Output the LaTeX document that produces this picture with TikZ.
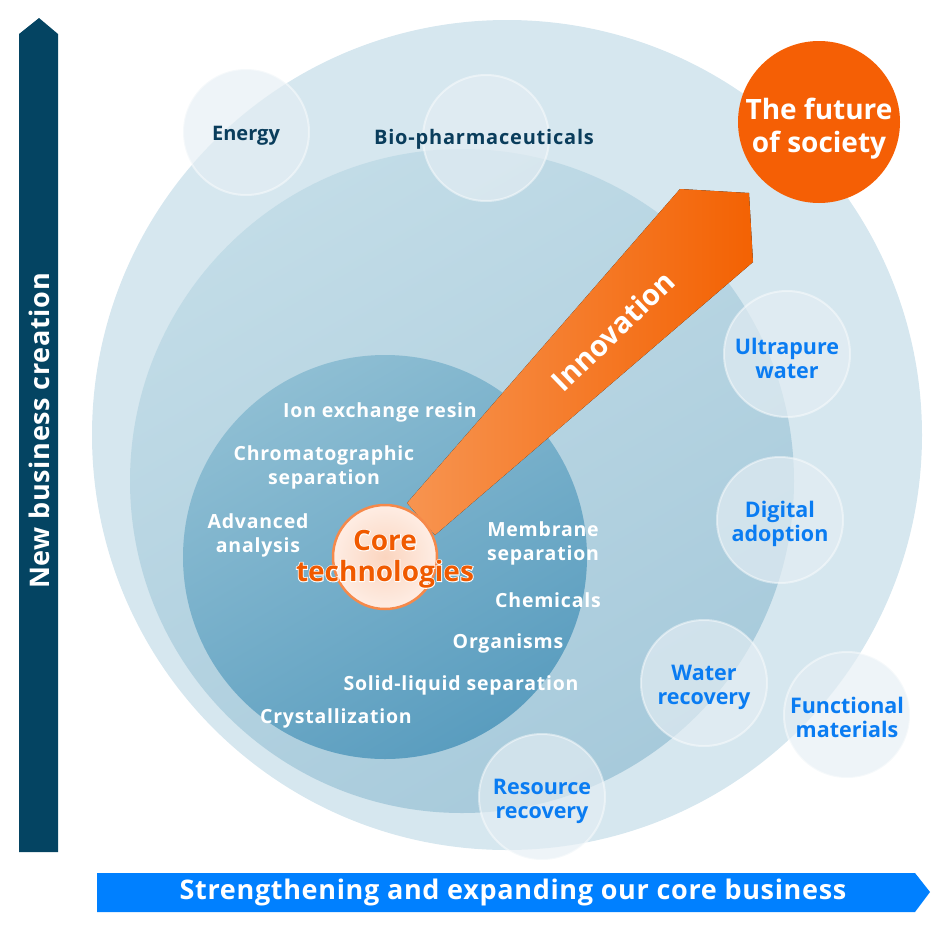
\documentclass[tikz,border=0pt]{standalone}
\usepackage{fontspec}
\setmainfont{Open Sans}
\newfontfamily\halofont[FakeBold=6]{Open Sans Bold}
\definecolor{navy}{HTML}{044462}
\definecolor{brightblue}{HTML}{0080FF}
\definecolor{ringout}{HTML}{D6E7EF}
\definecolor{ringmidA}{HTML}{C2DCE7}
\definecolor{ringmidB}{HTML}{A7CADB}
\definecolor{ringinA}{HTML}{8EBED3}
\definecolor{ringinB}{HTML}{5A9DBF}
\definecolor{orangeL}{HTML}{F79450}
\definecolor{orangeD}{HTML}{F36203}
\definecolor{future}{HTML}{F55F05}
\definecolor{coretext}{HTML}{F05A00}
\definecolor{coreedge}{HTML}{F6894A}
\definecolor{coreA}{HTML}{FBD5BF}
\definecolor{coreB}{HTML}{FEEDE4}
\definecolor{bubblefill}{HTML}{E5EEF4}
\definecolor{labelblue}{HTML}{0A7CF2}
\definecolor{labelnavy}{HTML}{0A3D5C}
\tikzset{
  bubble/.style={circle, minimum size=126pt, inner sep=0pt, fill=bubblefill, fill opacity=0.66,
    draw=white, draw opacity=0.45, line width=2pt},
  bubbletext/.style={text=labelblue, align=center, yshift=-4pt,
    font=\bfseries\fontsize{21.5}{24}\selectfont},
  tech/.style={text=white, align=center, yshift=-2pt,
    font=\bfseries\fontsize{19.5}{24}\selectfont\addfontfeatures{LetterSpace=4}},
  banner/.style={text=white, font=\bfseries\fontsize{27}{30}\selectfont\addfontfeatures{LetterSpace=2.5}}
}
\begin{document}
\begin{tikzpicture}[x=1pt,y=-1pt]
    \useasboundingbox (0,0) rectangle (948,948);
    \fill[ringout] (507,435) circle (415);
    \shade[top color=ringmidA, bottom color=ringmidB, shading angle=30] (462,481) circle (332);
    \shade[top color=ringinA, bottom color=ringinB, shading angle=30] (385,557) circle (202);
    \fill[left color=orangeL, right color=orangeD] (407,503) -- (680,189) -- (749,193) -- (753,262) -- (435,535) -- cycle;
    \node[text=white, font=\bfseries\fontsize{29}{32}\selectfont, rotate=44] (innov) at (613,331) {Innovation};
    \node[circle, minimum size=162pt, fill=future] (future) at (819,122) {};
    \node[text=white, align=center, font=\bfseries\fontsize{28}{33}\selectfont] (futuretext) at (819,129) {The future\\of society};
    \node[bubble] (energy) at (246,132) {};
    \node[bubbletext, text=labelnavy, font=\bfseries\fontsize{20}{24}\selectfont] at (energy.center) {Energy};
    \node[bubble] (bio) at (486,138) {};
    \node[text=labelnavy, font=\bfseries\fontsize{20}{24}\selectfont\addfontfeatures{LetterSpace=4}] (biotext) at (484,139) {Bio-pharmaceuticals};
    \node[bubble] (ultra) at (787,354) {};
    \node[bubbletext] at (ultra.center) {Ultrapure\\water};
    \node[bubble] (digital) at (780,520) {};
    \node[bubbletext] at (digital.center) {Digital\\adoption};
    \node[bubble] (waterrec) at (704,683) {};
    \node[bubbletext] at (waterrec.center) {Water\\recovery};
    \node[bubble] (functional) at (847,715) {};
    \node[bubbletext, yshift=2pt] at (functional.center) {Functional\\materials};
    \node[bubble] (resource) at (542,797) {};
    \node[bubbletext] at (resource.center) {Resource\\recovery};
    \node[tech] (ion) at (380,410) {Ion exchange resin};
    \node[tech] (chroma) at (324,465) {Chromatographic\\separation};
    \node[tech] (advanced) at (258,533) {Advanced\\analysis};
    \node[tech] (membrane) at (543,541) {Membrane\\separation};
    \node[tech] (chem) at (548,598) {Chemicals};
    \node[tech] (organisms) at (508,641) {Organisms};
    \node[tech] (solid) at (461,683) {Solid-liquid separation};
    \node[tech] (crystal) at (336,716) {Crystallization};
    \shade[inner color=coreA, outer color=coreB] (385,557) circle (52);
    \draw[coreedge, line width=2.5pt] (385,557) circle (52);
    \node[text=white, align=center, font=\halofont\fontsize{28}{31}\selectfont] (corehalo) at (385,559)
      {Core\\technologies};
    \node[text=coretext, align=center, font=\bfseries\fontsize{28}{31}\selectfont] (core) at (385,559)
      {Core\\technologies};
    \fill[navy] (19,852) -- (19,34) -- (39,18) -- (58,34) -- (58,852) -- cycle;
    \node[banner, rotate=90] (newbiz) at (39,431) {New business creation};
    \fill[brightblue] (97,873) -- (915,873) -- (930,892) -- (915,912) -- (97,912) -- cycle;
    \node[banner] (corebiz) at (513,892) {Strengthening and expanding our core business};
\end{tikzpicture}
\end{document}
